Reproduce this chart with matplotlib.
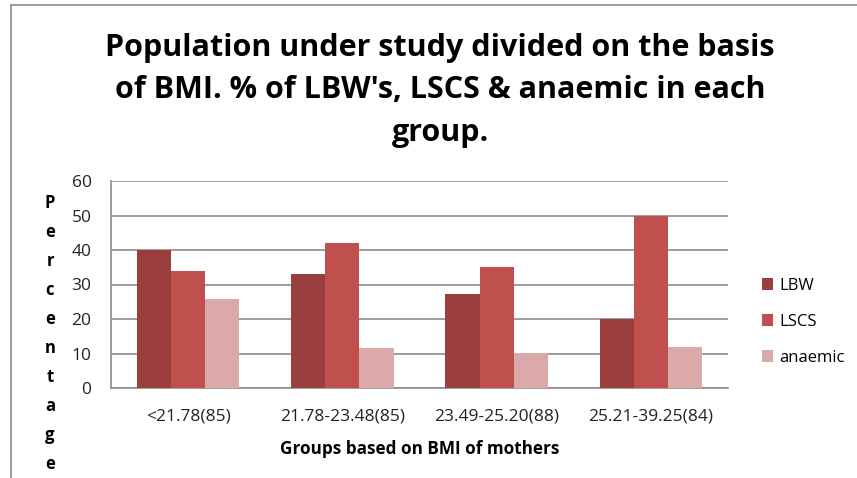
import numpy as np
from matplotlib import pyplot as plt

# data
groups = ["<21.78(85)", "21.78-23.48(85)", "23.49-25.20(88)", "25.21-39.25(84)"]
lbw = [40, 33, 27.2, 20]
lscs = [33.8, 42, 35.2, 50]
anaemic = [25.8, 11.5, 10.1, 12]
series_names = ["LBW", "LSCS", "anaemic"]
series_colors = ["#9B3F3E", "#C0504D", "#DBA9A9"]

plt.rcParams["font.family"] = ["Liberation Sans Narrow", "Open Sans", "DejaVu Sans"]

fig = plt.figure(figsize=(8.57, 4.78), dpi=100)
ax = fig.add_axes([111 / 857, 1 - 388 / 478, (728 - 111) / 857, (388 - 181) / 478])

# outer chart border (only top and left visible)
fig.add_artist(plt.Line2D([10.5 / 857, 10.5 / 857], [0, 1 - 5 / 478], color="#8C8C8C", lw=1.2))
fig.add_artist(plt.Line2D([10.5 / 857, 1], [1 - 5 / 478, 1 - 5 / 478], color="#8C8C8C", lw=1.2))

x = np.arange(len(groups))
w = 0.221
for i, (vals, name, col) in enumerate(zip([lbw, lscs, anaemic], series_names, series_colors)):
    ax.bar(x + (i - 1) * w, vals, width=w, color=col, label=name, zorder=3)

ax.set_xlim(-0.5, len(groups) - 0.5)
ax.set_ylim(0, 60)
ax.set_yticks(range(0, 61, 10))
ax.yaxis.grid(True, color="#8C8C8C", lw=1.2, zorder=0)
ax.set_axisbelow(True)
for s in ["top", "right"]:
    ax.spines[s].set_visible(False)
for s in ["left", "bottom"]:
    ax.spines[s].set_color("#8C8C8C")
    ax.spines[s].set_linewidth(1.2)
ax.tick_params(length=0, labelsize=12.5, colors="#222222")
ax.tick_params(axis="y", pad=14)
ax.tick_params(axis="x", pad=15)
ax.set_xticks(x)
ax.set_xticklabels(groups)

ax.set_xlabel("Groups based on BMI of mothers", fontsize=12.3, fontweight="bold", labelpad=11)

# stacked vertical y label
ylab = "Percentage"
for k, ch in enumerate(ylab):
    fig.text(50 / 857, 1 - (203 + k * 29) / 478, ch, ha="center", va="center",
             fontsize=12, fontweight="bold")

tx = 440 / 857
fig.text(tx, 1 - 48 / 478, "Population under study divided on the basis", ha="center", va="center",
         fontsize=22, fontweight="bold")
fig.text(tx, 1 - 90 / 478, "of BMI. % of LBW's, LSCS & anaemic in each", ha="center", va="center",
         fontsize=22, fontweight="bold")
fig.text(tx, 1 - 133 / 478, "group.", ha="center", va="center", fontsize=22, fontweight="bold")

ax.legend(loc="center left", bbox_to_anchor=(1.03, 0.319), frameon=False, fontsize=12,
          handlelength=0.7, handleheight=0.7, handletextpad=0.35, labelspacing=1.2)

plt.savefig("out.png", dpi=100)
